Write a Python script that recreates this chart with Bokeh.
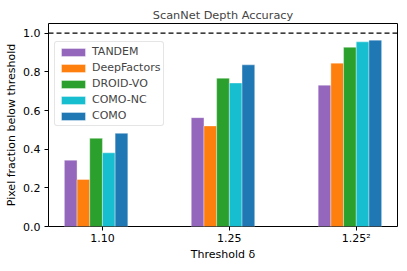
import numpy as np
from bokeh.plotting import figure
from bokeh.models import ColumnDataSource, FixedTicker, Span, Legend, LegendItem, Range1d, NumeralTickFormatter
from bokeh.embed import file_html
from bokeh.resources import INLINE

thresholds = ["1.10", "1.25", "1.25\u00b2"]
methods = ["TANDEM", "DeepFactors", "DROID-VO", "COMO-NC", "COMO"]
colors = ["#9467bd", "#ff7f0e", "#2ca02c", "#17becf", "#1f77b4"]
tandem = [0.343, 0.563, 0.731]
deepfactors = [0.243, 0.520, 0.845]
droid_vo = [0.456, 0.767, 0.927]
como_nc = [0.381, 0.742, 0.955]
como = [0.482, 0.836, 0.964]
series = [tandem, deepfactors, droid_vo, como_nc, como]

bar_w = 0.1
FONT = "DejaVu Sans"

p = figure(width=407, height=271, output_backend="svg", toolbar_location=None,
           x_range=Range1d(-0.425, 2.325), y_range=Range1d(0, 1.05),
           title="ScanNet Depth Accuracy",
           min_border_left=48, min_border_right=10, min_border_top=23, min_border_bottom=45)
p.title.align = "center"
p.title.text_font = FONT
p.title.text_font_size = "11.3px"
p.title.text_font_style = "normal"
p.title.offset = 0
p.title.standoff = 4

p.grid.visible = False
p.outline_line_color = "black"
p.outline_line_width = 1
p.outline_line_alpha = 1

groups = np.arange(len(thresholds))
items = []
for i, (name, vals, col) in enumerate(zip(methods, series, colors)):
    src = ColumnDataSource(dict(x=groups + (i - 2.5) * bar_w, top=vals))
    r = p.vbar(x="x", top="top", width=bar_w, source=src, fill_color=col,
               line_color="white", line_alpha=0.45, line_width=0.8)
    items.append(LegendItem(label=name, renderers=[r]))

p.add_layout(Span(location=1.0, dimension="width", line_color="black",
                  line_dash="5 3", line_width=1.2))

p.xaxis.ticker = FixedTicker(ticks=list(groups))
p.xaxis.major_label_overrides = {int(g): t for g, t in zip(groups, thresholds)}
p.xaxis.minor_tick_line_color = None
p.xaxis.axis_label = "Threshold \u03b4"
p.yaxis.ticker = FixedTicker(ticks=[0.0, 0.2, 0.4, 0.6, 0.8, 1.0])
p.yaxis.formatter = NumeralTickFormatter(format="0.0")
p.yaxis.minor_tick_line_color = None
p.yaxis.axis_label = "Pixel fraction below threshold"
for ax in (p.xaxis[0], p.yaxis[0]):
    ax.axis_line_color = None
    ax.major_tick_in = 0
    ax.major_tick_out = 4
    ax.major_tick_line_color = "black"
    ax.major_label_text_font = FONT
    ax.major_label_text_font_size = "11px"
    ax.major_label_text_color = "black"
    ax.axis_label_text_font = FONT
    ax.axis_label_text_font_size = "11px"
    ax.axis_label_text_font_style = "normal"
    ax.axis_label_text_color = "black"
p.xaxis.major_label_standoff = 1
p.xaxis.axis_label_standoff = 0
p.yaxis.major_label_standoff = 4
p.yaxis.axis_label_standoff = 2

legend = Legend(items=items, location=(6, 100))
legend.label_text_font = FONT
legend.label_text_font_size = "11px"
legend.glyph_width = 30
legend.glyph_height = 10
legend.label_height = 13
legend.label_standoff = 4
legend.spacing = 3
legend.padding = 3
legend.margin = 0
legend.border_line_color = "#cccccc"
legend.border_line_width = 1
legend.border_radius = 3
legend.background_fill_alpha = 0.8
p.add_layout(legend, "center")

open("out.html", "w").write(file_html(p, INLINE))
